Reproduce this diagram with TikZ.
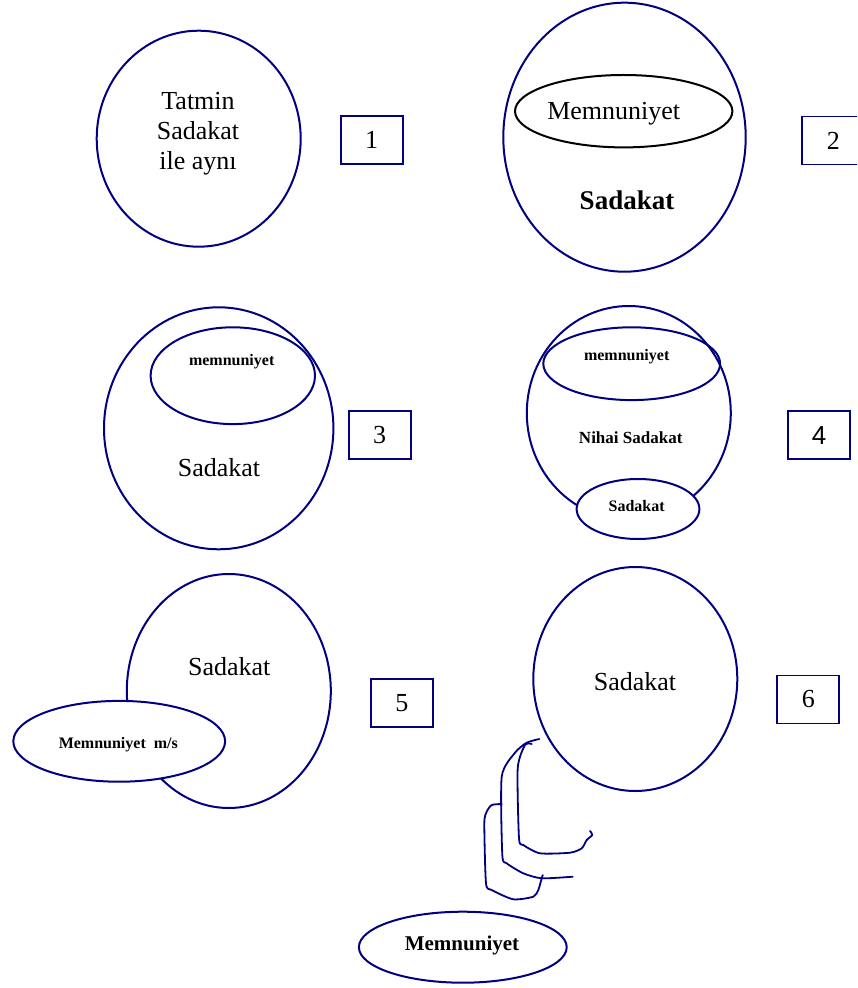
\documentclass[tikz,border=0pt]{standalone}
\usepackage{fontspec}
\setmainfont{Liberation Serif}
\newfontfamily\arialfont{Liberation Sans}
\usetikzlibrary{shapes.geometric}
\definecolor{penblue}{RGB}{0,0,128}
\tikzset{
  ring/.style={ellipse, draw=penblue, line width=1pt, inner sep=0pt},
  numbox/.style={draw=penblue, line width=0.9pt, minimum width=31pt, minimum height=24pt, inner sep=0pt, font=\fontsize{13}{15}\selectfont},
  lbl/.style={anchor=base, inner sep=0pt, font=\fontsize{13}{15}\selectfont},
  smalllbl/.style={anchor=base, inner sep=0pt, font=\fontsize{8}{10}\selectfont\bfseries},
  hand/.style={draw=penblue, line width=0.9pt, line join=round, line cap=round}
}
\begin{document}
\begin{tikzpicture}[x=0.5pt, y=-0.5pt]
	\path[use as bounding box] (0,0) rectangle (857,988);
	\clip (0,0) rectangle (857,988);

	% 1
	\node[ring, minimum width=102pt, minimum height=108pt] (c1) at (198.7,138.7) {};
	\node[lbl] (t1a) at (198,110) {Tatmin};
	\node[lbl] (t1b) at (198,140) {Sadakat};
	\node[lbl] (t1c) at (198,170) {ile aynı};
	\node[numbox] (n1) at (371.7,140.3) {1};

	% 2
	\node[ring, minimum width=121.2pt, minimum height=134.5pt] (c2) at (624.5,137.2) {};
	\node[ring, draw=black, minimum width=108.7pt, minimum height=36.2pt] (e2) at (623.7,111.2) {};
	\node[lbl] (t2a) at (613.7,120) {Memnuniyet};
	\node[lbl, font=\fontsize{13.5}{15}\selectfont\bfseries] (t2b) at (627,210) {Sadakat};
	\node[numbox] (n2) at (833.3,140.5) {2};

	% 3
	\node[ring, minimum width=114.7pt, minimum height=121pt] (c3) at (218.7,428.3) {};
	\node[ring, minimum width=82.2pt, minimum height=48.4pt] (e3) at (232.8,375.7) {};
	\node[smalllbl] (t3a) at (231.7,365) {memnuniyet};
	\node[lbl] (t3b) at (219,476.7) {Sadakat};
	\node[numbox] (n3) at (379.7,434.8) {3};

	% 4
	\node[ring, minimum width=102pt, minimum height=107pt] (c4) at (628.8,413) {};
	\node[ring, minimum width=88.4pt, minimum height=36.4pt] (e4a) at (631.7,363.7) {};
	\node[ring, fill=white, minimum width=61.4pt, minimum height=30pt] (e4b) at (638,509) {};
	\node[smalllbl] (t4a) at (626.7,360.7) {memnuniyet};
	\node[smalllbl, font=\fontsize{8.5}{10}\selectfont\bfseries] (t4b) at (630.7,443.3) {Nihai Sadakat};
	\node[smalllbl] (t4c) at (636.7,511) {Sadakat};
	\node[numbox, font=\fontsize{13}{15}\arialfont] (n4) at (819.2,435.2) {4};

	% 5
	\node[ring, minimum width=102pt, minimum height=117pt] (c5) at (228.8,691) {};
	\node[ring, fill=white, minimum width=105.9pt, minimum height=40.4pt] (e5) at (119.2,741.3) {};
	\node[lbl] (t5a) at (229.3,675) {Sadakat};
	\node[smalllbl] (t5b) at (118.3,748.3) {Memnuniyet\ \ m/s};
	\node[numbox] (n5) at (401.8,702.7) {5};

	% 6
	\node[ring, minimum width=102pt, minimum height=112pt] (c6) at (635.3,679) {};
	\node[lbl] (t6a) at (635,690) {Sadakat};
	\node[numbox] (n6) at (808.3,699.5) {6};
	\node[ring, minimum width=103.9pt, minimum height=35.5pt] (e6) at (462.8,947.2) {};
	\node[smalllbl, font=\fontsize{10.5}{12}\selectfont\bfseries] (t6b) at (462,950) {Memnuniyet};

	% hand strokes
	\draw[hand] plot[smooth, tension=0.4] coordinates {(539.3,739) (526.7,742.7) (515,752.7) (501.7,776.7) (502.3,855) (506.7,863.3) (523.3,873.3) (541.7,878.3) (572.7,876.7)};
	\draw[hand] plot[smooth, tension=0.4] coordinates {(531.7,744) (525,745) (517.7,768.3) (519,838.3) (523.3,845) (540,853.3) (570,852.7) (581.7,848.3) (586.7,840) (592.3,835) (590,831)};
	\draw[hand] plot[smooth, tension=0.4] coordinates {(501.7,804) (491.7,805) (486.7,811.7) (484.3,823.3) (486,883.3) (491.7,890) (513.3,899.3) (533.3,896.7) (538.3,890) (541.7,878.3) (542.7,875)};
\end{tikzpicture}
\end{document}
